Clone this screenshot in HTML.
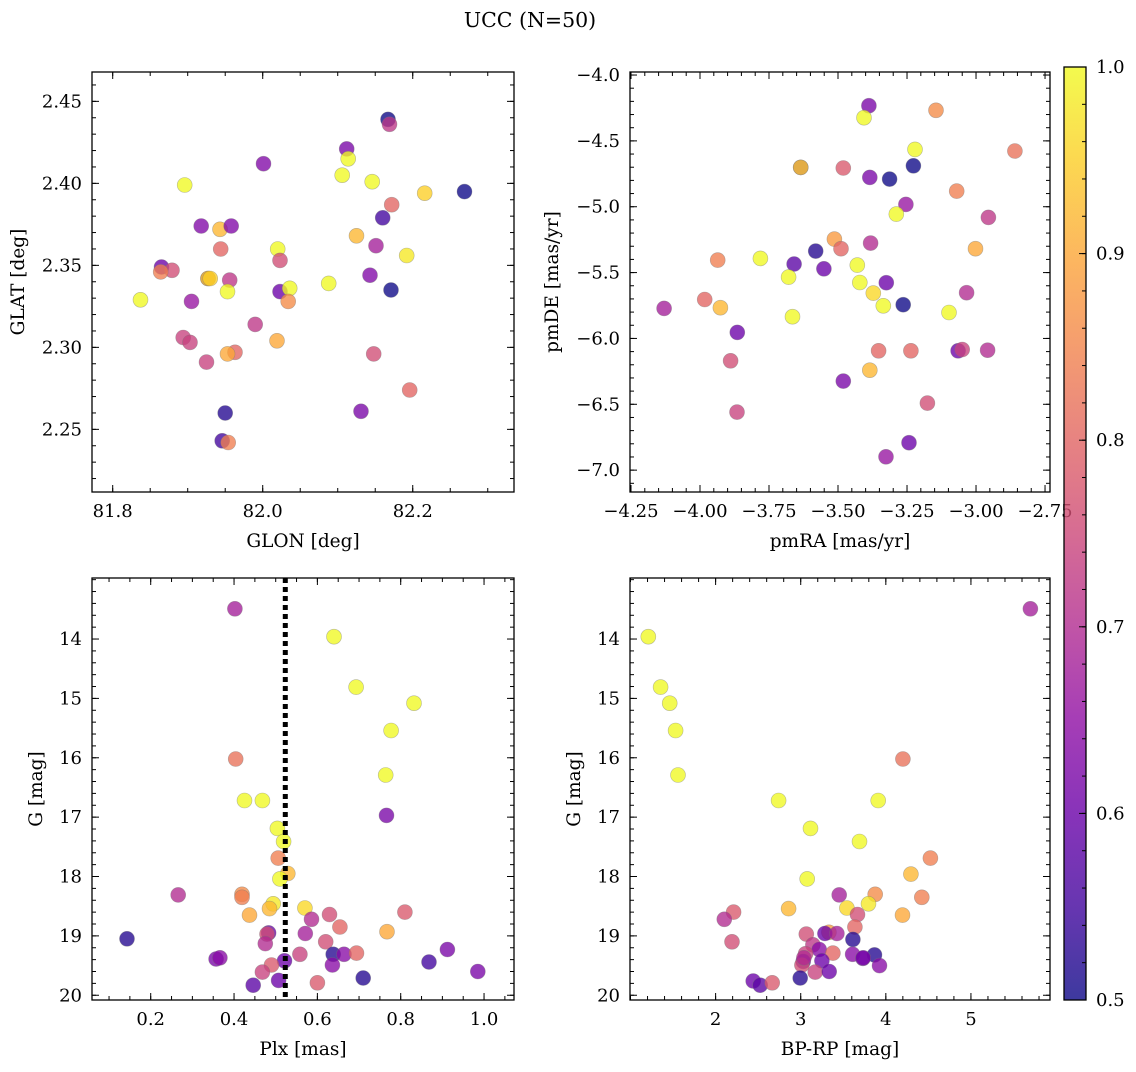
<!DOCTYPE html>
<html><head><meta charset="utf-8"><style>
body{margin:0;background:#fff;}
svg text{font-family:"DejaVu Serif","Liberation Serif",serif;fill:#000;}
</style></head><body>
<svg id="fig" width="1136" height="1067" viewBox="0 0 1136 1067" xmlns="http://www.w3.org/2000/svg">
<defs>
<linearGradient id="plasma" x1="0" y1="1" x2="0" y2="0">
<stop offset="0" stop-color="#0d0887"/><stop offset="0.1" stop-color="#41049d"/><stop offset="0.2" stop-color="#6a00a8"/><stop offset="0.3" stop-color="#8f0da4"/><stop offset="0.4" stop-color="#b12a90"/><stop offset="0.5" stop-color="#cc4778"/><stop offset="0.6" stop-color="#e16462"/><stop offset="0.7" stop-color="#f2844b"/><stop offset="0.8" stop-color="#fca636"/><stop offset="0.9" stop-color="#fcce25"/><stop offset="1" stop-color="#f0f921"/>
</linearGradient>
</defs>
<text x="530" y="27" text-anchor="middle" font-size="20.5">UCC (N=50)</text>
</svg>
<script>
// ---- data ----
const glon=[82.167,82.169,82.112,82.114,82.001,82.106,82.146,81.896,82.216,82.269,82.172,82.160,81.918,81.943,81.958,82.125,81.944,82.020,82.151,82.023,82.192,81.865,81.879,81.864,81.927,81.927,81.956,82.143,81.953,82.023,82.036,82.034,82.088,82.171,81.837,81.905,81.990,81.894,81.903,82.019,81.963,81.953,81.925,82.148,82.196,81.950,82.131,81.946,81.954,81.930];
const glat=[2.439,2.436,2.421,2.415,2.412,2.405,2.401,2.399,2.394,2.395,2.387,2.379,2.374,2.372,2.374,2.368,2.360,2.360,2.362,2.353,2.356,2.349,2.347,2.346,2.342,2.342,2.341,2.344,2.334,2.334,2.336,2.328,2.339,2.335,2.329,2.328,2.314,2.306,2.303,2.304,2.297,2.296,2.291,2.296,2.274,2.260,2.261,2.243,2.242,2.342];
const probTL=[0.5,0.72,0.62,1.0,0.63,1.0,1.0,1.0,0.95,0.5,0.8,0.55,0.63,0.92,0.63,0.92,0.8,1.0,0.68,0.76,0.98,0.6,0.76,0.84,0.6,0.95,0.72,0.63,1.0,0.6,1.0,0.86,1.0,0.5,1.0,0.66,0.72,0.74,0.74,0.9,0.8,0.9,0.74,0.76,0.8,0.52,0.62,0.55,0.84,0.95];
const pmra=[-3.388,-3.406,-3.145,-3.221,-2.859,-3.635,-3.635,-3.481,-3.227,-3.385,-3.313,-3.070,-3.254,-3.289,-2.955,-3.513,-3.489,-3.382,-3.002,-3.581,-3.936,-3.781,-3.659,-3.551,-3.430,-3.679,-3.421,-3.325,-3.372,-3.034,-3.983,-3.926,-4.130,-3.336,-3.264,-3.098,-3.665,-3.865,-3.353,-3.236,-3.065,-3.050,-2.958,-3.889,-3.385,-3.481,-3.176,-3.866,-3.243,-3.326];
const pmde=[-4.233,-4.324,-4.268,-4.565,-4.577,-4.701,-4.701,-4.706,-4.689,-4.777,-4.790,-4.881,-4.982,-5.056,-5.081,-5.246,-5.319,-5.276,-5.319,-5.337,-5.405,-5.392,-5.435,-5.471,-5.443,-5.534,-5.575,-5.577,-5.656,-5.653,-5.704,-5.767,-5.772,-5.752,-5.744,-5.803,-5.835,-5.954,-6.094,-6.094,-6.094,-6.084,-6.089,-6.170,-6.241,-6.324,-6.491,-6.559,-6.792,-6.899];
const probTR=[0.62,1.0,0.86,1.0,0.82,0.6,0.95,0.78,0.5,0.62,0.5,0.84,0.66,1.0,0.72,0.88,0.8,0.7,0.9,0.52,0.84,1.0,0.58,0.6,1.0,1.0,1.0,0.6,0.96,0.7,0.8,0.92,0.68,1.0,0.5,1.0,1.0,0.6,0.8,0.8,0.6,0.74,0.7,0.76,0.92,0.62,0.76,0.74,0.6,0.66];
const plx=[0.402,0.640,0.693,0.832,0.777,0.404,0.764,0.425,0.468,0.766,0.504,0.519,0.506,0.529,0.510,0.266,0.419,0.419,0.494,0.485,0.570,0.437,0.629,0.810,0.586,0.654,0.767,0.483,0.479,0.571,0.143,0.475,0.620,0.912,0.357,0.366,0.521,0.558,0.638,0.664,0.694,0.636,0.490,0.868,0.985,0.468,0.710,0.507,0.446,0.600];
const gBL=[13.49,13.96,14.81,15.08,15.54,16.02,16.29,16.72,16.72,16.97,17.19,17.41,17.69,17.95,18.04,18.31,18.30,18.35,18.46,18.54,18.53,18.65,18.64,18.60,18.72,18.85,18.93,18.95,18.97,18.96,19.05,19.13,19.10,19.23,19.39,19.37,19.42,19.31,19.31,19.31,19.29,19.49,19.49,19.44,19.60,19.61,19.71,19.75,19.83,19.79];
const probBL=[0.68,1.0,1.0,1.0,1.0,0.82,1.0,1.0,1.0,0.62,1.0,1.0,0.84,0.92,1.0,0.7,0.86,0.84,0.98,0.92,0.96,0.9,0.76,0.78,0.7,0.8,0.9,0.6,0.76,0.68,0.52,0.7,0.76,0.62,0.62,0.64,0.6,0.74,0.52,0.64,0.8,0.64,0.78,0.55,0.62,0.74,0.52,0.6,0.58,0.78];
const bprp=[5.699,1.209,1.354,1.460,1.530,4.200,1.558,2.740,3.910,3.115,3.691,4.524,4.294,3.076,3.452,3.875,4.423,3.796,2.857,3.542,4.196,3.667,2.211,2.102,3.636,3.331,3.284,3.425,3.065,3.613,2.192,3.143,3.217,3.378,3.609,3.867,3.730,3.249,3.057,3.029,3.014,3.926,3.170,3.335,2.994,2.442,2.524,2.665,3.734,3.037];
const gBR=[13.49,13.96,14.81,15.08,15.54,16.02,16.29,16.72,16.72,17.19,17.41,17.69,17.96,18.04,18.31,18.30,18.35,18.46,18.54,18.53,18.65,18.64,18.60,18.72,18.85,18.94,18.96,18.96,18.97,19.06,19.10,19.15,19.23,19.29,19.31,19.32,19.38,19.42,19.30,19.43,19.49,19.50,19.61,19.60,19.71,19.76,19.83,19.79,19.37,19.37];
const probBR=[0.68,1.0,1.0,1.0,1.0,0.82,1.0,1.0,1.0,1.0,1.0,0.84,0.92,1.0,0.68,0.86,0.84,0.98,0.92,0.96,0.9,0.76,0.78,0.7,0.8,0.88,0.6,0.68,0.76,0.52,0.76,0.72,0.64,0.8,0.64,0.52,0.6,0.6,0.74,0.6,0.76,0.64,0.74,0.6,0.52,0.6,0.58,0.78,0.62,0.7];
const plxLine=[0.523];
const ticksTLx=[81.8,82.0,82.2], ticksTLy=[2.25,2.30,2.35,2.40,2.45];
const ticksTRx=[-4.25,-4.0,-3.75,-3.5,-3.25,-3.0,-2.75], ticksTRy=[-7.0,-6.5,-6.0,-5.5,-5.0,-4.5,-4.0];
const ticksBLx=[0.2,0.4,0.6,0.8,1.0], ticksGy=[14,15,16,17,18,19,20];
const ticksBRx=[2,3,4,5], ticksCB=[0.5,0.6,0.7,0.8,0.9,1.0];

const NS="http://www.w3.org/2000/svg";
const svg=document.getElementById('fig');
const TFS=18, LFS=18.5;
function mk(tag,attrs,parent){const e=document.createElementNS(NS,tag);for(const k in attrs)e.setAttribute(k,attrs[k]);(parent||svg).appendChild(e);return e;}
const stops=[[13,8,135],[65,4,157],[106,0,168],[143,13,164],[177,42,144],[204,71,120],[225,100,98],[242,132,75],[252,166,54],[252,206,37],[240,249,33]];
function plasma(p){let t=Math.max(0,Math.min(1,(p-0.5)/0.5))*10;const i=Math.min(9,Math.floor(t));const f=t-i;const a=stops[i],b=stops[i+1];return `rgb(${Math.round(a[0]+(b[0]-a[0])*f)},${Math.round(a[1]+(b[1]-a[1])*f)},${Math.round(a[2]+(b[2]-a[2])*f)})`;}
function fmt(v,d){return (v<0?'\u2212':'')+Math.abs(v).toFixed(d);}

function panel(cfg){
  const g=mk('g',{});
  
  
  const {x0,y0,x1,y1,xd,yd,inv}=cfg;
  const sx=v=>x0+(v-xd[0])/(xd[1]-xd[0])*(x1-x0);
  const sy=v=>inv? y0+(v-yd[0])/(yd[1]-yd[0])*(y1-y0) : y1-(v-yd[0])/(yd[1]-yd[0])*(y1-y0);
  const pg=mk('g',{},g);
  for(let i=0;i<cfg.xs.length;i++){
    const c=mk('circle',{cx:sx(cfg.xs[i]).toFixed(1),cy:sy(cfg.ys[i]).toFixed(1),r:7.5,fill:plasma(cfg.ps[i]),'fill-opacity':0.78,stroke:'#777','stroke-opacity':0.5,'stroke-width':0.6},pg);
    
    
  }
  if(cfg.vline){for(const v of cfg.vline){const l=mk('line',{x1:sx(v),x2:sx(v),y1:y0,y2:y1,stroke:'#000','stroke-width':5,'stroke-dasharray':'5 4'},g);
    
    }}
  const fr=mk('rect',{x:x0,y:y0,width:x1-x0,height:y1-y0,fill:'none',stroke:'#000','stroke-width':1.3},g);
  
  
  const tk=mk('g',{stroke:'#000','stroke-width':1},g);
  for(let v=Math.ceil(xd[0]/cfg.xm)*cfg.xm; v<=xd[1]; v+=cfg.xm){const X=sx(v);mk('line',{x1:X,x2:X,y1:y1,y2:y1-4},tk);mk('line',{x1:X,x2:X,y1:y0,y2:y0+4},tk);}
  for(let v=Math.ceil(Math.min(...yd)/cfg.ym)*cfg.ym; v<=Math.max(...yd); v+=cfg.ym){const Y=sy(v);mk('line',{x1:x0,x2:x0+4,y1:Y,y2:Y},tk);mk('line',{x1:x1,x2:x1-4,y1:Y,y2:Y},tk);}
  for(const v of cfg.xt){const X=sx(v);if(X<x0-1||X>x1+1)continue;mk('line',{x1:X,x2:X,y1:y1,y2:y1-7},tk);mk('line',{x1:X,x2:X,y1:y0,y2:y0+7},tk);}
  for(const v of cfg.yt){const Y=sy(v);mk('line',{x1:x0,x2:x0+7,y1:Y,y2:Y},tk);mk('line',{x1:x1,x2:x1-7,y1:Y,y2:Y},tk);}
  for(const v of cfg.xt){const t=mk('text',{x:sx(v),y:y1+25,'text-anchor':'middle','font-size':TFS},g);t.textContent=fmt(v,cfg.xdig);
    
    }
  for(const v of cfg.yt){const t=mk('text',{x:x0-10,y:sy(v)+6,'text-anchor':'end','font-size':TFS},g);t.textContent=fmt(v,cfg.ydig);
    
    }
  const xl=mk('text',{x:(x0+x1)/2,y:y1+55,'text-anchor':'middle','font-size':LFS},g);xl.textContent=cfg.xlab;
  
  
  const yx=cfg.ylx, yc=(y0+y1)/2;
  const yl=mk('text',{x:yx,y:yc,'text-anchor':'middle','font-size':LFS,transform:`rotate(-90 ${yx} ${yc})`},g);yl.textContent=cfg.ylab;
  
  
}
panel({name:'glon-glat-panel',x0:92,y0:72,x1:514,y1:492,xd:[81.7724,82.335],yd:[2.2118,2.4679],xs:glon,ys:glat,ps:probTL,xt:ticksTLx,yt:ticksTLy,xm:0.05,ym:0.01,xdig:1,ydig:2,xlab:'GLON [deg]',ylab:'GLAT [deg]',ylx:24});
panel({name:'proper-motion-panel',x0:630,y0:72,x1:1050,y1:492,xd:[-4.2536,-2.732],yd:[-7.166,-3.977],xs:pmra,ys:pmde,ps:probTR,xt:ticksTRx,yt:ticksTRy,xm:0.05,ym:0.1,xdig:2,ydig:1,xlab:'pmRA [mas/yr]',ylab:'pmDE [mas/yr]',ylx:558});
panel({name:'plx-g-panel',x0:92,y0:578,x1:514,y1:1000,xd:[0.0591,1.0719],yd:[12.972,20.08],inv:true,xs:plx,ys:gBL,ps:probBL,xt:ticksBLx,yt:ticksGy,xm:0.05,ym:0.2,xdig:1,ydig:0,xlab:'Plx [mas]',ylab:'G [mag]',ylx:42,vline:plxLine});
panel({name:'cmd-panel',x0:630,y0:578,x1:1050,y1:1000,xd:[0.994,5.929],yd:[12.972,20.08],inv:true,xs:bprp,ys:gBR,ps:probBR,xt:ticksBRx,yt:ticksGy,xm:0.2,ym:0.2,xdig:0,ydig:0,xlab:'BP-RP [mag]',ylab:'G [mag]',ylx:580});
const cb=mk('g',{});


const cy0=67,cy1=1000,cx0=1064,cx1=1086;
mk('rect',{x:cx0,y:cy0,width:cx1-cx0,height:cy1-cy0,fill:'url(#plasma)','fill-opacity':0.8,stroke:'none'},cb);
mk('rect',{x:cx0,y:cy0,width:cx1-cx0,height:cy1-cy0,fill:'none',stroke:'#000','stroke-width':1.3},cb);
const csy=v=>cy1-(v-0.5)/0.5*(cy1-cy0);
for(let v=0.5;v<=1.0001;v+=0.02){mk('line',{x1:cx1,x2:cx1-4,y1:csy(v),y2:csy(v),stroke:'#000'},cb);}
for(const v of ticksCB){mk('line',{x1:cx1,x2:cx1-7,y1:csy(v),y2:csy(v),stroke:'#000'},cb);
  const t=mk('text',{x:cx1+10,y:csy(v)+6,'font-size':TFS},cb);t.textContent=v.toFixed(1);
  
  }
</script>
</body></html>
